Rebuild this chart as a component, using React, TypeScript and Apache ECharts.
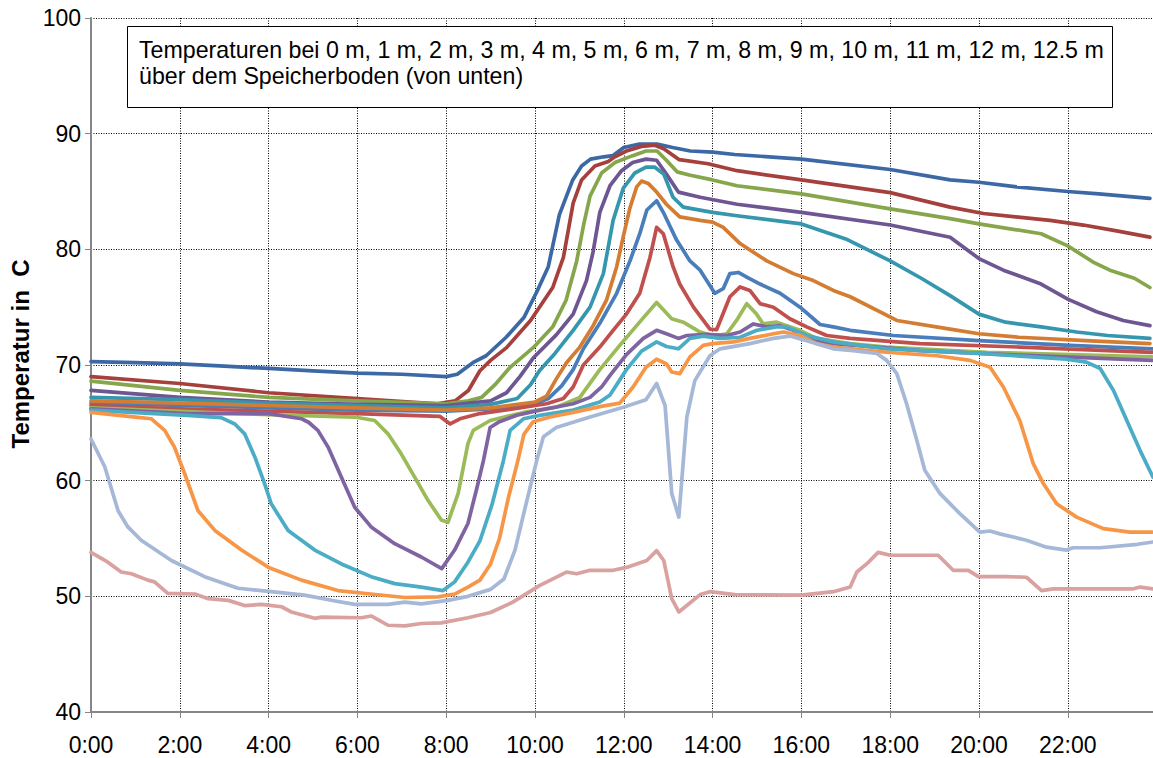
import React, { useEffect, useRef } from "react";
import * as echarts from "echarts";

type P = [number, number];

// time in hours (0..24), temperature in °C
const t12_5m: P[] = [[0,70.3],[1,70.2],[2,70.1],[3,69.9],[4,69.7],[5,69.5],[6,69.3],[7,69.2],[8,69.0],[8.25,69.2],[8.6,70.2],[8.9,70.8],[9.35,72.4],[9.75,74.1],[10.05,76.4],[10.3,78.5],[10.55,83.0],[10.85,86.0],[11.05,87.2],[11.25,87.8],[11.55,88.0],[11.75,88.1],[12.0,88.8],[12.35,89.1],[12.75,89.1],[13.1,88.8],[13.5,88.5],[14,88.4],[14.5,88.2],[16,87.8],[18,86.9],[19.35,86.0],[20,85.8],[20.85,85.4],[22,85.0],[22.7,84.8],[23.85,84.4]];
const t12m: P[] = [[0,69.0],[2,68.4],[4,67.6],[6,67.1],[7.8,66.65],[8.2,66.9],[8.5,67.8],[8.76,69.5],[9.0,70.4],[9.36,71.5],[9.9,73.85],[10.4,76.7],[10.64,79.3],[10.86,84.0],[11.05,86.0],[11.35,87.2],[11.65,87.6],[11.8,88.0],[12.06,88.5],[12.4,88.9],[12.7,89.0],[12.9,88.7],[13.25,87.75],[13.9,87.4],[14.55,86.8],[16,86.0],[18,84.9],[19.35,83.65],[20.1,83.1],[21.6,82.5],[22.35,82.1],[23.1,81.6],[23.85,81.05]];
const t11m: P[] = [[0,68.6],[2,67.8],[4,67.2],[6,66.9],[8,66.65],[8.5,66.9],[8.8,67.2],[9.1,68.3],[9.44,69.8],[9.96,71.5],[10.4,73.3],[10.7,75.6],[10.94,79.0],[11.1,82.2],[11.24,84.6],[11.5,86.6],[11.8,87.5],[12.2,88.1],[12.5,88.5],[12.75,88.5],[12.96,87.7],[13.2,86.7],[13.5,86.4],[14,86.0],[14.55,85.5],[16,84.8],[18,83.5],[19.35,82.65],[20,82.2],[21.4,81.35],[22,80.3],[22.57,78.9],[22.95,78.2],[23.5,77.5],[23.85,76.7]];
const t10m: P[] = [[0,67.8],[2,67.2],[4,66.8],[6,66.6],[8,66.5],[9.0,66.9],[9.36,67.6],[9.66,69.0],[9.96,70.6],[10.48,72.6],[10.86,74.4],[11.16,77.3],[11.31,79.8],[11.46,83.2],[11.69,85.5],[11.95,86.8],[12.2,87.5],[12.5,87.8],[12.74,87.7],[12.96,86.5],[13.23,84.95],[13.72,84.5],[14.55,83.9],[16,83.2],[18,82.1],[19.35,81.05],[20,79.2],[20.55,78.2],[21.4,77.0],[22,75.7],[22.65,74.6],[23.25,73.85],[23.85,73.4]];
const t9m: P[] = [[0,67.2],[2,67.0],[4,66.7],[6,66.5],[8,66.3],[9,66.6],[9.6,67.1],[9.9,68.3],[10.1,69.5],[10.45,71.0],[10.86,73.0],[11.24,75.0],[11.54,77.9],[11.76,82.5],[11.99,85.3],[12.25,86.6],[12.5,87.1],[12.7,87.1],[12.9,86.5],[13.11,84.5],[13.34,83.65],[14,83.2],[14.55,82.9],[16,82.2],[17,80.9],[18,79.0],[18.7,77.5],[19.35,76.0],[20,74.4],[20.6,73.7],[21.4,73.3],[22.2,72.85],[22.9,72.55],[23.85,72.3]];
const t8m: P[] = [[0,66.9],[2,66.7],[4,66.5],[6,66.3],[8,66.1],[9,66.3],[10,66.8],[10.26,67.3],[10.48,68.8],[10.71,70.2],[11.0,71.5],[11.31,73.4],[11.61,75.6],[11.84,78.5],[12.0,81.3],[12.14,83.6],[12.29,85.4],[12.4,85.9],[12.55,85.7],[12.74,84.95],[12.96,83.9],[13.26,82.8],[13.72,82.5],[14.0,82.35],[14.24,81.9],[14.47,81.05],[14.62,80.5],[15.22,79.0],[15.82,77.9],[16.27,77.3],[16.72,76.45],[17.1,75.9],[18.15,73.85],[19.35,73.1],[20,72.7],[20.9,72.4],[22.4,72.1],[23.85,71.85]];
const t7m: P[] = [[0,66.7],[2,66.5],[4,66.3],[6,66.1],[8,66.0],[9,66.2],[10.04,66.7],[10.3,67.1],[10.6,68.2],[10.86,69.6],[11.09,71.4],[11.46,73.6],[11.84,76.2],[12.14,79.0],[12.36,81.35],[12.52,83.4],[12.74,84.2],[12.89,83.2],[13.19,80.8],[13.49,79.0],[13.72,78.2],[14.05,76.2],[14.24,76.6],[14.39,77.9],[14.58,78.0],[14.77,77.6],[15.07,77.0],[15.52,76.2],[15.97,75.0],[16.42,73.5],[16.72,73.3],[17.1,73.0],[18.07,72.55],[20,72.1],[22.05,71.7],[23.92,71.4]];
const t6m: P[] = [[0,66.5],[2,66.2],[4,66.0],[6,65.8],[7.86,65.55],[8.09,64.9],[8.31,65.35],[8.76,65.8],[9.51,66.2],[10.26,66.65],[10.64,67.1],[10.86,68.1],[11.09,70.0],[11.46,71.55],[11.76,73.0],[12.06,74.4],[12.36,76.2],[12.59,79.3],[12.74,81.9],[12.89,81.35],[13.11,78.5],[13.26,77.0],[13.57,75.0],[13.94,73.1],[14.09,73.05],[14.39,75.9],[14.62,76.75],[14.84,76.45],[15.07,75.3],[15.37,75.0],[15.74,74.0],[16.12,73.3],[16.57,72.55],[17.1,72.3],[18.67,71.85],[20.92,71.55],[23.9,71.1]];
const t5m: P[] = [[0,66.3],[2,66.0],[4,65.7],[5.94,65.5],[6.39,65.2],[6.69,64.05],[6.99,62.3],[7.29,60.3],[7.59,58.3],[7.89,56.6],[8.04,56.4],[8.27,58.9],[8.49,63.2],[8.61,64.35],[8.99,65.2],[9.74,65.9],[10.48,66.35],[11.01,67.2],[11.46,69.6],[11.91,71.7],[12.4,73.9],[12.74,75.4],[13.08,74.0],[13.34,73.7],[13.72,72.85],[14.02,72.5],[14.32,72.7],[14.54,73.85],[14.77,75.3],[14.99,74.4],[15.14,73.55],[15.44,73.7],[15.97,73.0],[16.34,72.3],[17.1,71.85],[17.92,71.55],[20.17,71.1],[23.9,70.7]];
const t4m: P[] = [[0,66.2],[2.2,65.8],[4,65.8],[4.74,65.35],[4.9,65.05],[5.11,64.35],[5.34,62.9],[5.64,60.3],[5.94,57.7],[6.31,56.0],[6.84,54.55],[7.44,53.4],[7.9,52.4],[8.19,54.0],[8.49,56.3],[8.7,59.5],[8.84,61.75],[8.99,64.6],[9.2,65.1],[9.59,65.65],[10.11,66.1],[10.86,66.65],[11.24,67.2],[11.5,68.1],[11.69,69.1],[12.06,70.9],[12.44,72.3],[12.74,73.0],[12.96,72.7],[13.23,72.3],[13.42,72.55],[13.87,72.65],[14.32,72.55],[14.62,72.85],[14.92,73.55],[15.22,73.3],[15.52,73.4],[15.82,73.0],[16.27,72.1],[16.72,71.85],[18.67,71.25],[20.92,70.85],[23.9,70.4]];
const t3m: P[] = [[0,66.1],[1.43,65.8],[2.18,65.65],[2.93,65.45],[3.24,64.9],[3.46,64.05],[3.69,62.05],[3.91,59.75],[4.06,58.0],[4.44,55.7],[5.04,54.0],[5.64,52.8],[6.31,51.7],[6.84,51.1],[7.44,50.8],[7.93,50.5],[8.19,51.25],[8.49,52.95],[8.76,54.8],[9.03,57.9],[9.29,61.75],[9.44,64.35],[9.74,65.35],[10.11,65.65],[10.86,66.1],[11.46,66.8],[11.69,67.4],[12.06,69.6],[12.4,71.2],[12.74,72.0],[12.96,71.6],[13.23,71.4],[13.49,72.3],[13.79,72.5],[14.17,72.3],[14.62,72.4],[15.0,73.0],[15.44,73.3],[15.67,73.3],[16.12,72.55],[16.72,72.0],[17.92,71.4],[20,71.0],[21.97,70.5],[22.42,70.25],[22.73,69.7],[23.03,67.8],[23.33,65.2],[23.63,62.6],[23.92,60.3]];
const t2m: P[] = [[0,65.9],[1,65.5],[1.36,65.35],[1.66,64.35],[1.88,62.9],[2.11,60.6],[2.41,57.4],[2.79,55.7],[3.39,54.0],[4,52.5],[4.74,51.4],[5.56,50.5],[6.3,50.2],[7.07,49.9],[7.82,49.95],[8.19,50.2],[8.49,50.8],[8.76,51.4],[9.0,52.8],[9.2,55.0],[9.4,58.5],[9.6,61.5],[9.75,64.0],[9.96,65.1],[10.34,65.5],[10.86,65.9],[11.46,66.4],[11.91,66.7],[12.21,68.1],[12.5,69.8],[12.74,70.5],[12.96,70.1],[13.08,69.4],[13.26,69.25],[13.49,70.7],[13.79,71.7],[14.0,71.85],[14.47,72.0],[14.84,72.3],[15.37,72.7],[15.6,72.85],[15.97,72.55],[16.34,71.85],[16.72,71.55],[17.92,71.1],[19.05,70.8],[19.8,70.4],[20.25,69.8],[20.55,68.1],[20.92,65.2],[21.22,61.5],[21.45,59.75],[21.75,58.0],[22.2,56.85],[22.8,55.85],[23.4,55.55],[23.9,55.55]];
const t1m: P[] = [[0,63.6],[0.31,61.2],[0.61,57.4],[0.83,56.0],[1.13,54.85],[1.81,53.1],[2.56,51.7],[3.31,50.7],[4.06,50.4],[4.81,50.1],[5.5,49.6],[5.94,49.3],[6.69,49.3],[7.07,49.5],[7.44,49.35],[8.04,49.65],[8.49,50.0],[9.0,50.6],[9.3,51.5],[9.55,54.0],[9.8,58.0],[10.04,61.75],[10.19,63.8],[10.48,64.6],[11.24,65.5],[11.99,66.35],[12.5,67.0],[12.74,68.4],[12.93,66.5],[13.08,58.9],[13.24,56.85],[13.42,65.5],[13.6,68.65],[13.94,70.8],[14.17,71.4],[14.84,71.85],[15.37,72.3],[15.74,72.5],[16.12,72.1],[16.72,71.4],[17.17,71.25],[17.7,71.0],[17.92,70.4],[18.15,69.25],[18.37,66.65],[18.6,63.5],[18.78,60.9],[19.12,58.9],[19.57,57.15],[20.02,55.55],[20.25,55.65],[20.47,55.4],[21.07,54.85],[21.52,54.25],[21.97,54.0],[22.12,54.2],[22.73,54.2],[23.57,54.5],[23.92,54.7]];
const t0m: P[] = [[0,53.8],[0.38,52.95],[0.68,52.1],[0.91,51.95],[1.28,51.4],[1.43,51.25],[1.73,50.25],[2.34,50.2],[2.64,49.8],[3.09,49.65],[3.46,49.2],[3.84,49.3],[4.29,49.1],[4.51,48.65],[5.04,48.1],[5.19,48.2],[6.09,48.15],[6.31,48.3],[6.69,47.5],[7.07,47.45],[7.44,47.65],[7.89,47.7],[8.49,48.15],[9.0,48.6],[9.5,49.5],[10.11,50.95],[10.71,52.1],[10.94,51.95],[11.24,52.25],[11.76,52.25],[12.06,52.5],[12.52,53.1],[12.74,53.95],[12.9,53.1],[13.08,49.8],[13.24,48.65],[13.72,50.15],[13.94,50.4],[14.5,50.15],[16.0,50.1],[16.72,50.4],[17.1,50.8],[17.25,52.1],[17.47,52.8],[17.73,53.8],[18.0,53.55],[19.08,53.55],[19.42,52.25],[19.76,52.25],[19.99,51.7],[20.62,51.7],[21.07,51.65],[21.41,50.5],[21.67,50.65],[23.48,50.65],[23.63,50.8],[23.92,50.65]];

const seriesNames = ["7 m", "6 m", "5 m", "4 m", "3 m", "2 m", "12.5 m", "12 m", "11 m", "10 m", "9 m", "8 m", "1 m", "0 m"];
const seriesData = [t7m, t6m, t5m, t4m, t3m, t2m, t12_5m, t12m, t11m, t10m, t9m, t8m, t1m, t0m];
const seriesColors = ["#4A7EBB", "#C0504D", "#9BBB59", "#8064A2", "#4BACC6", "#F79646", "#3C69A5", "#A5403D", "#86A64B", "#6E5693", "#3596AE", "#D47C31", "#A5B8D7", "#D9A19F"];

const yTitle = "Temperatur in  C";
const boxLine1 = "Temperaturen bei 0 m, 1 m, 2 m, 3 m, 4 m, 5 m, 6 m, 7 m, 8 m, 9 m, 10 m, 11 m, 12 m, 12.5 m";
const boxLine2 = "über dem Speicherboden (von unten)";

export default function App() {
  const ref = useRef<HTMLDivElement>(null);
  useEffect(() => {
    if (!ref.current) return;
    const chart = echarts.init(ref.current, null, { renderer: "svg" });
    const font = "'Liberation Sans', Arial, sans-serif";
    chart.setOption({
      animation: false,
      backgroundColor: "#fff",
      grid: { left: 91, top: 18, right: 0, bottom: 46, containLabel: false },
      xAxis: {
        type: "value",
        min: 0,
        max: 23.92,
        interval: 2,
        axisLine: { show: true, lineStyle: { color: "#868686", width: 2 } },
        axisTick: { show: true, length: 6, lineStyle: { color: "#868686", width: 1 } },
        axisLabel: {
          color: "#000",
          fontFamily: font,
          fontSize: 23,
          margin: 21,
          showMaxLabel: false,
          formatter: (v: number) => (Math.abs(v % 2) < 1e-6 ? `${v}:00` : ""),
        },
        splitLine: { show: true, showMaxLine: false, lineStyle: { color: "#000", width: 1, type: [1, 1.5] } },
      },
      yAxis: {
        type: "value",
        min: 40,
        max: 100,
        interval: 10,
        axisLine: { show: true, lineStyle: { color: "#868686", width: 2 } },
        axisTick: { show: true, length: 6, lineStyle: { color: "#868686", width: 1 } },
        axisLabel: { color: "#000", fontFamily: font, fontSize: 23, margin: 10 },
        splitLine: { show: true, showMinLine: false, lineStyle: { color: "#000", width: 1, type: [1, 1.5] } },
      },
      graphic: [
        {
          type: "text",
          x: 20,
          y: 354,
          rotation: Math.PI / 2,
          style: {
            text: yTitle,
            font: `bold 24px ${font}`,
            fill: "#000",
            textAlign: "center",
            textVerticalAlign: "middle",
          },
        },
        {
          type: "rect",
          shape: { x: 127.5, y: 26.5, width: 985, height: 81 },
          style: { fill: "#fff", stroke: "#000", lineWidth: 1 },
          z: 100,
        },
        {
          type: "text",
          x: 139,
          y: 50,
          z: 101,
          style: { text: boxLine1, font: `23.2px ${font}`, fill: "#000", textVerticalAlign: "middle" },
        },
        {
          type: "text",
          x: 139,
          y: 76,
          z: 101,
          style: { text: boxLine2, font: `23.2px ${font}`, fill: "#000", textVerticalAlign: "middle" },
        },
      ],
      series: seriesData.map((d, i) => ({
        name: seriesNames[i],
        type: "line",
        data: d,
        showSymbol: false,
        symbol: "none",
        silent: true,
        lineStyle: { color: seriesColors[i], width: 3.7, join: "round", cap: "round" },
        itemStyle: { color: seriesColors[i] },
      })),
    });
    return () => chart.dispose();
  }, []);
  return <div ref={ref} style={{ position: "absolute", left: 0, top: 0, width: 1153, height: 758 }} />;
}
